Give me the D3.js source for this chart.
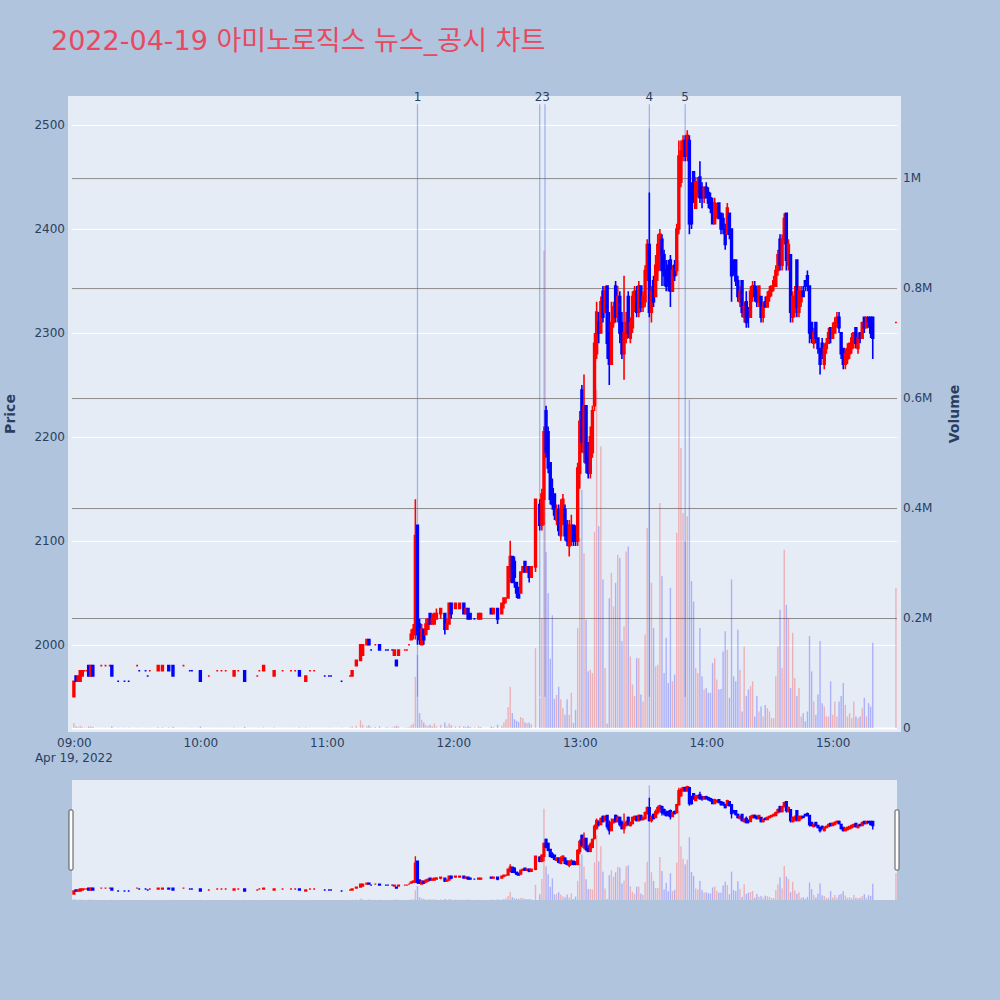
<!DOCTYPE html>
<html>
<head>
<meta charset="utf-8">
<script src="https://cdn.jsdelivr.net/npm/d3@7"></script>
<style>
  body { margin: 0; background: #b0c4de; }
</style>
</head>
<body>
<svg id="chart" width="1000" height="1000"></svg>
<script>
// 분봉 데이터 (09:00 기준 경과 분)
var minutes = [
  0,1,2,3,4,5,6,7,8,9,
  13,15,17,18,21,24,26,30,31,34,
  35,36,40,42,45,47,52,55,56,60,
  64,68,70,72,76,78,81,87,88,90,
  95,99,103,105,107,110,112,114,119,121,
  122,127,131,132,134,136,137,139,140,141,
  143,145,148,149,151,152,153,154,157,158,
  159,160,161,162,163,164,165,166,167,168,
  169,170,171,172,174,176,177,178,179,181,
  183,185,186,187,188,190,192,193,198,199,
  201,203,204,205,206,207,208,209,210,211,
  212,213,214,215,216,217,219,221,222,223,
  224,225,226,227,228,229,230,231,232,233,
  234,235,236,237,238,239,240,241,242,243,
  244,245,246,247,248,249,250,251,252,253,
  254,255,256,257,258,259,260,261,262,263,
  264,265,266,267,268,269,270,271,272,273,
  274,275,276,277,278,279,280,281,282,283,
  284,285,286,287,288,289,290,291,292,293,
  294,295,296,297,298,299,300,301,302,303,
  304,305,306,307,308,309,310,311,312,313,
  314,315,316,317,318,319,320,321,322,323,
  324,325,326,327,328,329,330,331,332,333,
  334,335,336,337,338,339,340,341,342,343,
  344,345,346,347,348,349,350,351,352,353,
  354,355,356,357,358,359,360,361,362,363,
  364,365,366,367,368,369,370,371,372,373,
  374,375,376,377,378,379,390
];
var opens = [
  1950,1970,1965,1965,1970,1975,1975,1980,1970,1980,
  1980,1980,1980,1980,1965,1965,1965,1980,1975,1975,
  1970,1975,1975,1975,1980,1980,1980,1975,1975,1975,
  1970,1975,1975,1975,1970,1975,1975,1970,1975,1975,
  1970,1975,1975,1975,1975,1965,1975,1975,1970,1970,
  1970,1965,1970,1970,1980,1985,1990,2000,2005,1995,
  2000,2000,1995,1995,1995,1990,1985,1990,1995,1995,
  2000,2005,2010,2010,2115,2020,2000,2015,2010,2015,
  2030,2020,2020,2025,2030,2030,2015,2020,2040,2035,
  2035,2040,2030,2035,2030,2025,2025,2025,2035,2030,
  2035,2030,2040,2045,2045,2065,2085,2080,2060,2055,
  2050,2070,2080,2070,2075,2065,2075,2135,2115,2140,
  2225,2205,2175,2150,2145,2120,2130,2105,2120,2130,
  2115,2095,2100,2115,2110,2100,2165,2245,2185,2230,
  2180,2165,2185,2230,2280,2310,2300,2340,2320,2345,
  2300,2270,2310,2345,2315,2335,2310,2280,2295,2335,
  2295,2305,2325,2340,2320,2345,2325,2330,2355,2385,
  2320,2350,2335,2360,2375,2390,2375,2360,2365,2370,
  2340,2365,2360,2400,2445,2470,2485,2470,2485,2440,
  2455,2420,2435,2450,2440,2430,2440,2435,2430,2425,
  2405,2415,2425,2415,2410,2400,2395,2415,2400,2370,
  2370,2350,2330,2350,2315,2330,2320,2315,2335,2345,
  2340,2330,2335,2315,2330,2325,2335,2340,2345,2345,
  2360,2390,2365,2390,2415,2365,2375,2315,2320,2370,
  2320,2330,2340,2350,2355,2345,2310,2290,2310,2295,
  2285,2290,2270,2285,2290,2305,2295,2300,2310,2315,
  2300,2285,2270,2275,2280,2285,2290,2305,2285,2300,
  2295,2315,2305,2315,2315,2315,2310
];
var highs = [
  1965,1970,1970,1975,1975,1975,1975,1980,1980,1980,
  1980,1980,1980,1980,1965,1965,1965,1980,1975,1975,
  1970,1975,1980,1980,1980,1980,1980,1975,1975,1975,
  1970,1975,1975,1975,1975,1975,1975,1970,1975,1980,
  1975,1975,1975,1975,1975,1970,1975,1975,1970,1970,
  1970,1965,1970,1975,1985,2000,2000,2005,2005,1995,
  2000,2000,1995,1995,1995,1995,1985,1995,1995,1995,
  2000,2015,2020,2140,2115,2025,2020,2015,2025,2025,
  2030,2030,2030,2035,2035,2030,2025,2040,2040,2040,
  2040,2040,2035,2035,2030,2025,2030,2030,2035,2035,
  2035,2040,2045,2045,2075,2100,2085,2085,2060,2055,
  2070,2075,2080,2075,2075,2075,2140,2140,2150,2210,
  2230,2210,2175,2160,2145,2135,2135,2140,2145,2135,
  2120,2120,2125,2115,2115,2175,2225,2250,2260,2230,
  2195,2210,2230,2300,2330,2320,2335,2345,2345,2345,
  2320,2330,2330,2350,2345,2340,2320,2355,2320,2340,
  2315,2340,2345,2345,2350,2345,2340,2365,2390,2435,
  2345,2355,2375,2395,2400,2395,2380,2370,2370,2375,
  2365,2370,2405,2485,2485,2490,2490,2495,2490,2445,
  2455,2450,2450,2465,2445,2440,2445,2440,2435,2430,
  2430,2425,2425,2415,2415,2405,2425,2415,2400,2370,
  2370,2355,2345,2350,2330,2340,2325,2345,2350,2350,
  2345,2345,2335,2330,2335,2340,2345,2345,2355,2365,
  2380,2395,2395,2415,2415,2390,2375,2340,2345,2370,
  2345,2345,2345,2350,2360,2345,2310,2305,2310,2295,
  2285,2295,2290,2295,2305,2305,2310,2315,2320,2320,
  2300,2285,2285,2290,2290,2300,2300,2305,2300,2300,
  2310,2315,2315,2315,2315,2315,2310
];
var lows = [
  1950,1965,1965,1965,1970,1975,1975,1970,1970,1970,
  1980,1980,1980,1970,1965,1965,1965,1980,1975,1975,
  1970,1975,1975,1975,1975,1970,1980,1975,1975,1965,
  1970,1975,1975,1975,1970,1975,1965,1970,1975,1975,
  1970,1975,1975,1975,1970,1965,1975,1975,1970,1970,
  1970,1965,1970,1970,1980,1985,1990,2000,2000,1995,
  2000,1995,1995,1995,1995,1990,1980,1990,1995,1995,
  2000,2005,2005,2005,2000,2000,2000,2000,2010,2015,
  2020,2020,2020,2025,2025,2010,2015,2020,2025,2035,
  2035,2030,2030,2025,2025,2025,2025,2025,2030,2030,
  2020,2030,2035,2040,2045,2060,2060,2055,2045,2045,
  2050,2070,2070,2070,2060,2065,2070,2110,2110,2115,
  2180,2165,2135,2130,2120,2115,2105,2100,2115,2100,
  2095,2085,2095,2095,2095,2095,2150,2185,2175,2165,
  2160,2160,2180,2225,2275,2290,2300,2310,2320,2275,
  2250,2270,2305,2310,2310,2290,2275,2255,2290,2295,
  2290,2300,2320,2315,2315,2320,2320,2325,2350,2315,
  2310,2325,2335,2350,2360,2345,2345,2340,2340,2325,
  2340,2350,2355,2395,2440,2465,2465,2465,2395,2400,
  2425,2420,2430,2425,2420,2425,2430,2420,2415,2405,
  2405,2410,2410,2395,2395,2380,2395,2390,2330,2355,
  2345,2330,2325,2315,2310,2305,2305,2315,2330,2330,
  2325,2325,2310,2310,2325,2325,2330,2335,2340,2345,
  2355,2360,2360,2385,2360,2360,2310,2310,2315,2315,
  2315,2325,2335,2340,2340,2290,2290,2285,2290,2280,
  2260,2275,2265,2280,2290,2290,2295,2300,2305,2300,
  2275,2265,2265,2270,2275,2280,2285,2285,2280,2290,
  2295,2300,2305,2305,2295,2275,2310
];
var closes = [
  1965,1965,1970,1975,1975,1975,1975,1970,1980,1970,
  1980,1980,1980,1970,1965,1965,1965,1980,1975,1975,
  1970,1975,1980,1980,1975,1970,1980,1975,1975,1965,
  1970,1975,1975,1975,1975,1975,1965,1970,1975,1980,
  1975,1975,1975,1975,1970,1970,1975,1975,1970,1970,
  1970,1965,1970,1975,1985,2000,2000,2005,2000,1995,
  2000,1995,1995,1995,1995,1995,1980,1995,1995,1995,
  2000,2010,2015,2105,2010,2005,2015,2005,2020,2025,
  2020,2025,2030,2030,2035,2015,2020,2040,2030,2040,
  2040,2030,2035,2025,2025,2025,2030,2030,2030,2035,
  2025,2040,2045,2045,2075,2085,2060,2065,2050,2045,
  2070,2075,2070,2075,2065,2075,2140,2115,2145,2205,
  2185,2170,2140,2135,2125,2130,2110,2130,2140,2105,
  2100,2115,2115,2100,2100,2170,2215,2195,2230,2175,
  2165,2200,2225,2290,2320,2300,2330,2315,2340,2290,
  2270,2310,2325,2315,2335,2300,2280,2300,2310,2300,
  2310,2335,2340,2320,2345,2325,2335,2360,2385,2320,
  2340,2330,2365,2385,2395,2360,2355,2345,2350,2340,
  2360,2355,2400,2470,2475,2485,2470,2490,2405,2405,
  2430,2445,2445,2430,2430,2440,2430,2425,2420,2405,
  2425,2420,2410,2400,2400,2385,2420,2395,2355,2360,
  2350,2335,2340,2320,2325,2310,2315,2340,2345,2335,
  2330,2345,2315,2325,2325,2335,2340,2345,2350,2360,
  2375,2365,2390,2410,2370,2385,2320,2335,2335,2325,
  2340,2340,2335,2345,2345,2300,2295,2300,2295,2285,
  2270,2280,2285,2290,2300,2295,2305,2310,2315,2305,
  2280,2270,2280,2285,2290,2295,2300,2290,2295,2295,
  2310,2305,2315,2310,2300,2295,2310
];
var volumes = [
  9000,3000,2000,4000,2000,500,500,3000,3000,2000,
  500,500,300,3000,500,500,500,300,300,300,
  300,300,1500,1500,1000,2000,300,300,300,2500,
  300,300,300,300,1000,300,2000,300,300,1000,
  1000,300,300,300,1000,1000,300,300,300,300,
  300,500,800,3000,4000,14000,6000,3000,5000,1000,
  2000,3000,1000,1000,1000,3000,4000,3000,800,800,
  1500,5000,8000,93000,133000,27000,15000,10000,5000,4000,
  6000,3000,8000,3000,6000,10000,3000,8000,5000,3000,
  4000,3000,2000,4000,2000,1000,3000,2000,3000,2000,
  6000,4000,10000,16000,38000,75000,27000,16000,13000,11000,
  20000,18000,10000,9000,10000,7000,145000,55000,200000,868000,
  320000,245000,126000,205000,53000,60000,75000,52000,36000,24000,
  52000,24000,64000,9000,33000,182000,345000,433000,318000,197000,
  103000,106000,100000,357000,615000,367000,512000,270000,109000,8000,
  236000,282000,221000,264000,315000,309000,158000,185000,321000,330000,
  130000,79000,58000,127000,127000,61000,48000,170000,364000,1090000,
  264000,182000,112000,115000,409000,276000,100000,164000,82000,255000,
  85000,97000,355000,850000,509000,391000,339000,385000,597000,267000,
  230000,109000,100000,182000,94000,70000,73000,64000,64000,118000,
  127000,88000,70000,71000,139000,176000,142000,55000,270000,94000,
  85000,179000,106000,30000,148000,58000,70000,76000,85000,21000,
  58000,30000,39000,21000,42000,36000,30000,18000,18000,94000,
  148000,215000,109000,324000,224000,200000,73000,173000,91000,58000,
  73000,21000,27000,12000,30000,167000,103000,48000,24000,61000,
  158000,45000,39000,21000,21000,85000,24000,48000,21000,48000,
  58000,82000,42000,21000,27000,18000,48000,21000,18000,21000,
  36000,55000,21000,45000,39000,155000,255000
];

// 뉴스/공시 시점 (09:00 기준 경과 분)
var newsMinutes = [163, 221, 223.5, 273, 290];
var newsLabels = ["1", "2", "3", "4", "5"];

var priceTicks = [2000, 2100, 2200, 2300, 2400, 2500];
var volumeTicks = [0, 200000, 400000, 600000, 800000, 1000000];
var hourTicks = [0, 60, 120, 180, 240, 300, 360];
var titleText = "2022-04-19 아미노로직스 뉴스_공시 차트";

var svg = d3.select("#chart");
var font = "'DejaVu Sans', 'Noto Sans CJK KR', sans-serif";
var upColor = "#ff0000", downColor = "#0000ff";

var base = new Date(2022, 3, 19, 9, 0, 0);
function toTime(m) { return new Date(base.getTime() + m * 60000); }

var rows = minutes.map(function (m, i) {
  return { t: toTime(m), o: opens[i], h: highs[i], l: lows[i], c: closes[i], v: volumes[i] };
});
// 상승/하락 판정 (시가=종가면 전봉 종가와 비교)
var prevClose = null, rising = true;
rows.forEach(function (d) {
  if (d.c === d.o) {
    if (prevClose !== null && d.c !== prevClose) rising = d.c > prevClose;
  } else rising = d.c > d.o;
  d.up = rising;
  prevClose = d.c;
});
function col(d) { return d.up ? upColor : downColor; }

var x = d3.scaleTime().domain([toTime(-0.9), toTime(390.5)]).range([72, 897]);
var yPrice = d3.scaleLinear().domain([1920, 2524]).range([728, 100]);
var yVol = d3.scaleLinear().domain([0, 1142000]).range([728, 100]);

// 제목
svg.append("text")
  .attr("x", 51).attr("y", 50)
  .attr("font-family", font).attr("font-size", 27)
  .attr("fill", "#e8495f")
  .text(titleText);

// 플롯 배경
svg.append("rect").attr("x", 68).attr("y", 96).attr("width", 833).attr("height", 636).attr("fill", "#e5ecf6");

// 가격 축 (왼쪽)
var gPrice = svg.append("g").attr("transform", "translate(72,0)")
  .call(d3.axisLeft(yPrice).tickValues(priceTicks).tickSize(-825).tickPadding(7).tickFormat(d3.format("d")));
gPrice.select(".domain").remove();
gPrice.selectAll(".tick line").attr("stroke", "#ffffff").attr("stroke-width", 1);
gPrice.attr("font-family", font).attr("font-size", 12);
gPrice.selectAll(".tick text").attr("fill", "#2a3f5f");

// 거래량 축 (오른쪽)
var fmtVol = function (v) { return v === 0 ? "0" : d3.format("~g")(v / 1e6) + "M"; };
var gVol = svg.append("g").attr("transform", "translate(897,0)")
  .call(d3.axisRight(yVol).tickValues(volumeTicks).tickSize(-825).tickPadding(6).tickFormat(fmtVol));
gVol.select(".domain").remove();
gVol.selectAll(".tick line")
  .attr("stroke", function (d) { return d === 0 ? "#ffffff" : "#8c8c8c"; })
  .attr("stroke-width", function (d) { return d === 0 ? 2 : 1; });
gVol.attr("font-family", font).attr("font-size", 12);
gVol.selectAll(".tick text").attr("fill", "#2a3f5f");

// 시간 축
var gX = svg.append("g").attr("transform", "translate(0,728)")
  .call(d3.axisBottom(x).tickValues(hourTicks.map(toTime)).tickSize(0).tickPadding(10).tickFormat(d3.timeFormat("%H:%M")));
gX.select(".domain").remove();
gX.attr("font-family", font).attr("font-size", 12);
gX.selectAll(".tick text").attr("fill", "#2a3f5f");
svg.append("text").attr("x", x(toTime(0))).attr("y", 762)
  .attr("text-anchor", "middle").attr("font-family", font).attr("font-size", 12)
  .attr("fill", "#2a3f5f").text(d3.timeFormat("%b %-d, %Y")(base));

// 축 제목
svg.append("text").attr("transform", "translate(15,414) rotate(-90)")
  .attr("text-anchor", "middle").attr("font-family", font).attr("font-size", 14)
  .attr("font-weight", "bold").attr("fill", "#2a3f5f").text("Price");
svg.append("text").attr("transform", "translate(959,414) rotate(-90)")
  .attr("text-anchor", "middle").attr("font-family", font).attr("font-size", 14)
  .attr("font-weight", "bold").attr("fill", "#2a3f5f").text("Volume");

function drawVolume(g, yv) {
  g.selectAll("rect").data(rows).join("rect")
    .attr("x", function (d) { return x(d.t) - 0.7; })
    .attr("width", 1.4)
    .attr("y", function (d) { return yv(d.v); })
    .attr("height", function (d) { return yv(0) - yv(d.v); })
    .attr("fill", col).attr("fill-opacity", 0.25);
}

function drawCandles(g, yp, hw, sw) {
  g.selectAll("path").data(rows).join("path")
    .attr("d", function (d) {
      var cx = x(d.t);
      var top = Math.min(yp(d.o), yp(d.c)), bot = Math.max(yp(d.o), yp(d.c));
      return "M" + (cx - hw) + "," + top + "H" + (cx + hw) + "V" + bot + "H" + (cx - hw) + "Z" +
        "M" + cx + "," + top + "V" + yp(d.h) + "M" + cx + "," + bot + "V" + yp(d.l);
    })
    .attr("fill", col).attr("stroke", col).attr("stroke-width", sw);
}

// 거래량 막대
drawVolume(svg.append("g"), yVol);

// 뉴스 세로선
var lineLow = d3.min(lows), lineHigh = d3.max(highs) * 1.01;
var newsX = newsMinutes.map(function (m) { return x(toTime(m)); });
var gNews = svg.append("g");
gNews.selectAll("line").data(newsX).join("line")
  .attr("x1", function (d) { return d; }).attr("x2", function (d) { return d; })
  .attr("y1", yPrice(lineLow)).attr("y2", yPrice(lineHigh))
  .attr("stroke", "rgb(65,105,225)").attr("stroke-opacity", 0.45).attr("stroke-width", 1.2);

// 라벨이 겹치면 좌우로 붙여서 배치
var labelPos = newsX.map(function (d) { return { x: d, anchor: "middle" }; });
for (var i = 1; i < labelPos.length; i++) {
  if (newsX[i] - newsX[i - 1] < 8) {
    var mid = (newsX[i] + newsX[i - 1]) / 2;
    labelPos[i - 1] = { x: mid, anchor: "end" };
    labelPos[i] = { x: mid, anchor: "start" };
  }
}
gNews.selectAll("text").data(labelPos).join("text")
  .attr("x", function (d) { return d.x; })
  .attr("y", yPrice(lineHigh) - 3)
  .attr("text-anchor", function (d) { return d.anchor; })
  .attr("font-family", font).attr("font-size", 12)
  .attr("fill", "#2a3f5f")
  .text(function (d, i) { return newsLabels[i]; });

// 캔들
drawCandles(svg.append("g"), yPrice, 0.9, 1.6);

// 레인지 슬라이더
var ySliderPrice = d3.scaleLinear().domain(yPrice.domain()).range([900, 780]);
var ySliderVol = d3.scaleLinear().domain(yVol.domain()).range([900, 780]);
svg.append("rect").attr("x", 72).attr("y", 780).attr("width", 825).attr("height", 120).attr("fill", "#e5ecf6");
drawVolume(svg.append("g"), ySliderVol);
drawCandles(svg.append("g"), ySliderPrice, 0.9, 1.4);
[69, 895].forEach(function (gx) {
  svg.append("rect").attr("x", gx).attr("y", 810).attr("width", 4).attr("height", 60)
    .attr("rx", 1).attr("fill", "#ffffff").attr("stroke", "#555").attr("stroke-width", 1);
});
</script>
</body>
</html>
